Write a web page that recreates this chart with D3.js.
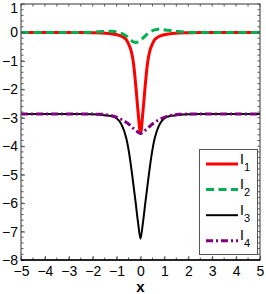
<!DOCTYPE html>
<html>
<head>
<meta charset="utf-8">
<script src="https://cdn.jsdelivr.net/npm/d3@7"></script>
<style>
  body { margin: 0; background: #fff; }
  svg { display: block; font-family: "Liberation Sans", Arial, sans-serif; }
</style>
</head>
<body>
<div id="chart"></div>
<script>
// sample positions along x
const xs = [-5, -4, -3, -2.5, -2, -1.6, -1.3, -1.1, -0.9, -0.75, -0.6, -0.5, -0.4, -0.3, -0.2, -0.1, 0,
            0.1, 0.2, 0.3, 0.4, 0.5, 0.6, 0.75, 0.9, 1.1, 1.3, 1.6, 2, 2.5, 3, 4, 5];

// values
const I1 = [0, 0, 0, 0, -0.01, -0.02, -0.04, -0.06, -0.1, -0.15, -0.25, -0.4, -0.62, -1.05, -1.85, -2.8, -3.55,
            -2.8, -1.85, -1.05, -0.62, -0.4, -0.25, -0.15, -0.1, -0.06, -0.04, -0.02, -0.01, 0, 0, 0, 0];
const I2 = [0, 0, 0, 0, 0.01, 0.03, 0.04, 0.03, 0, -0.05, -0.12, -0.2, -0.27, -0.33, -0.35, -0.33, -0.28,
            -0.2, -0.12, -0.04, 0.02, 0.06, 0.09, 0.11, 0.1, 0.08, 0.06, 0.03, 0.01, 0, 0, 0, 0];
const I3 = [-2.87, -2.87, -2.87, -2.87, -2.88, -2.9, -2.93, -2.97, -3.1, -3.32, -3.7, -4.12, -4.68, -5.33, -6.0, -6.7, -7.25,
            -6.7, -6.0, -5.33, -4.68, -4.12, -3.7, -3.32, -3.1, -2.97, -2.93, -2.9, -2.88, -2.87, -2.87, -2.87, -2.87];
const I4 = [-2.87, -2.87, -2.87, -2.87, -2.87, -2.88, -2.91, -2.95, -3.02, -3.08, -3.16, -3.22, -3.29, -3.37, -3.44, -3.51, -3.55,
            -3.51, -3.44, -3.37, -3.29, -3.22, -3.16, -3.08, -3.02, -2.95, -2.91, -2.88, -2.87, -2.87, -2.87, -2.87, -2.87];

const xTicks = [-5, -4, -3, -2, -1, 0, 1, 2, 3, 4, 5];
const yTicks = [1, 0, -1, -2, -3, -4, -5, -6, -7, -8];
const seriesNames = ["1", "2", "3", "4"];

const width = 266, height = 294;
const mLeft = 21, mRight = 260, mTop = 4, mBottom = 260;

const x = d3.scaleLinear().domain([-5, 5]).range([mLeft, mRight]);
const y = d3.scaleLinear().domain([-8, 1]).range([mBottom, mTop]);

const svg = d3.select("#chart").append("svg")
  .attr("width", width)
  .attr("height", height);

const series = [
  { name: seriesNames[0], values: I1, color: "#ff0000", w: 3, dash: null },
  { name: seriesNames[1], values: I2, color: "#00b050", w: 3, dash: "8,4.5" },
  { name: seriesNames[2], values: I3, color: "#000000", w: 2, dash: null },
  { name: seriesNames[3], values: I4, color: "#800080", w: 3, dash: "7,3,2,3" }
];

const line = d3.line()
  .x(d => x(d[0]))
  .y(d => y(d[1]))
  .curve(d3.curveCatmullRom.alpha(0.5));

const plot = svg.append("g");
plot.append("clipPath").attr("id", "clip")
  .append("rect").attr("x", mLeft).attr("y", mTop).attr("width", mRight - mLeft).attr("height", mBottom - mTop);

series.forEach(s => {
  plot.append("path")
    .datum(xs.map((v, i) => [v, s.values[i]]))
    .attr("clip-path", "url(#clip)")
    .attr("d", line)
    .attr("fill", "none")
    .attr("stroke", s.color)
    .attr("stroke-width", s.w)
    .attr("stroke-dasharray", s.dash);
});

// axes, ticks inside on all four sides
const tickCol = "#555";
const xMinor = d3.range(-5, 5.01, 0.5);
const yMinor = d3.range(-8, 1.01, 0.2);

const fmt = d => d3.format("")(d).replace("-", "\u2212");
const axB = d3.axisBottom(x).tickValues(xTicks).tickSize(-4).tickFormat(fmt);
const axL = d3.axisLeft(y).tickValues(yTicks).tickSize(-4).tickFormat(fmt);

function minor(g, vals, horiz, pos, len) {
  g.selectAll(null).data(vals).join("line")
    .attr("x1", d => horiz ? x(d) : pos)
    .attr("x2", d => horiz ? x(d) : pos + len)
    .attr("y1", d => horiz ? pos : y(d))
    .attr("y2", d => horiz ? pos + len : y(d))
    .attr("stroke", tickCol).attr("stroke-width", 1);
}

const ticks = svg.append("g");
minor(ticks, xMinor, true, mBottom, -2.5);
minor(ticks, xMinor, true, mTop, 2.5);
minor(ticks, yMinor, false, mLeft, 2.5);
minor(ticks, yMinor, false, mRight, -2.5);

const gB = svg.append("g").attr("transform", `translate(0,${mBottom})`).call(axB);
const gL = svg.append("g").attr("transform", `translate(${mLeft},0)`).call(axL);
[gB, gL].forEach(g => {
  g.select(".domain").remove();
  g.selectAll(".tick line").attr("stroke", tickCol);
  g.selectAll(".tick text").attr("fill", "#000").style("font-size", "14px")
    .style("font-family", "'Liberation Sans', Arial, sans-serif");
});
gB.selectAll(".tick text").attr("dy", "0.95em").attr("y", 3);
gL.selectAll(".tick text").attr("x", -3);
// keep the top label inside the window
gL.selectAll(".tick text").filter(d => d === 1).attr("dy", "0.6em");

svg.append("rect")
  .attr("x", mLeft).attr("y", mTop)
  .attr("width", mRight - mLeft).attr("height", mBottom - mTop)
  .attr("fill", "none").attr("stroke", tickCol).attr("stroke-width", 1.2);
svg.append("line")
  .attr("x1", mLeft).attr("x2", mRight).attr("y1", mBottom).attr("y2", mBottom)
  .attr("stroke", "#000").attr("stroke-width", 1.5);

svg.append("text")
  .attr("x", x(0)).attr("y", 292)
  .attr("text-anchor", "middle")
  .style("font-size", "15px").style("font-weight", "bold")
  .text("x");

// legend
const lg = svg.append("g");
lg.append("rect")
  .attr("x", 199.5).attr("y", 149.5).attr("width", 58).attr("height", 105)
  .attr("fill", "#fff").attr("stroke", tickCol).attr("stroke-width", 1);

series.forEach((s, i) => {
  const ly = 164 + i * 25.6;
  lg.append("line")
    .attr("x1", 206).attr("x2", 238).attr("y1", ly).attr("y2", ly)
    .attr("stroke", s.color).attr("stroke-width", s.w)
    .attr("stroke-dasharray", s.dash);
  const t = lg.append("text").attr("x", 240).attr("y", ly - 0.5).style("font-size", "14px");
  t.append("tspan").text("I");
  t.append("tspan").attr("dy", 7).style("font-size", "11px").text(s.name);
});
</script>
</body>
</html>
